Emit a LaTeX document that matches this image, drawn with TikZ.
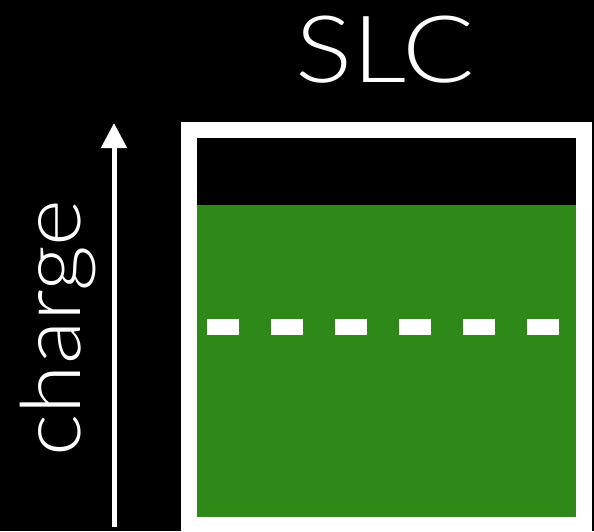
\documentclass[tikz,border=0pt]{standalone}
\usepackage{fontspec}
\setmainfont{Lato Light}
\newfontfamily\titlefont{Lato Light}[FakeStretch=1.15]
\newfontfamily\axisfont{Lato Light}[FakeStretch=1.08]
\usetikzlibrary{arrows.meta}
\definecolor{cellgreen}{RGB}{47,137,24}
\tikzset{
  label text/.style={text=white, inner sep=0pt},
  frame box/.style={fill=white, draw=none},
}
\begin{document}
\begin{tikzpicture}[x=1pt, y=-1pt]
  % black page
  \fill[black] (0,0) rectangle (594,531);
  \useasboundingbox (0,0) rectangle (594,531);

  % title
  \node[label text, anchor=base, font=\titlefont\fontsize{93}{93}\selectfont] (title) at (385,82) {SLC};

  % cell: white frame, empty part, charged part
  \fill[frame box] (181,122) rectangle (592,531);
  \coordinate (frame) at (181,122);
  \fill[black] (197,138) rectangle (576,205);
  \fill[cellgreen] (197,205) rectangle (576,517);
  \coordinate (levelA) at (207,327);
  \coordinate (levelB) at (559,327);
  \draw[white, line width=16pt, dash pattern=on 32pt off 32pt] (levelA) -- (levelB);

  % charge axis
  \coordinate (axisfoot) at (114,527);
  \coordinate (axistip) at (114,123);
  \draw[white, line width=5pt, -{Triangle[length=25pt, width=25pt]}] (axisfoot) -- (axistip);
  \node[label text, rotate=90, anchor=base, font=\axisfont\fontsize{83}{83}\selectfont] (axislabel) at (80,328) {charge};
\end{tikzpicture}
\end{document}
